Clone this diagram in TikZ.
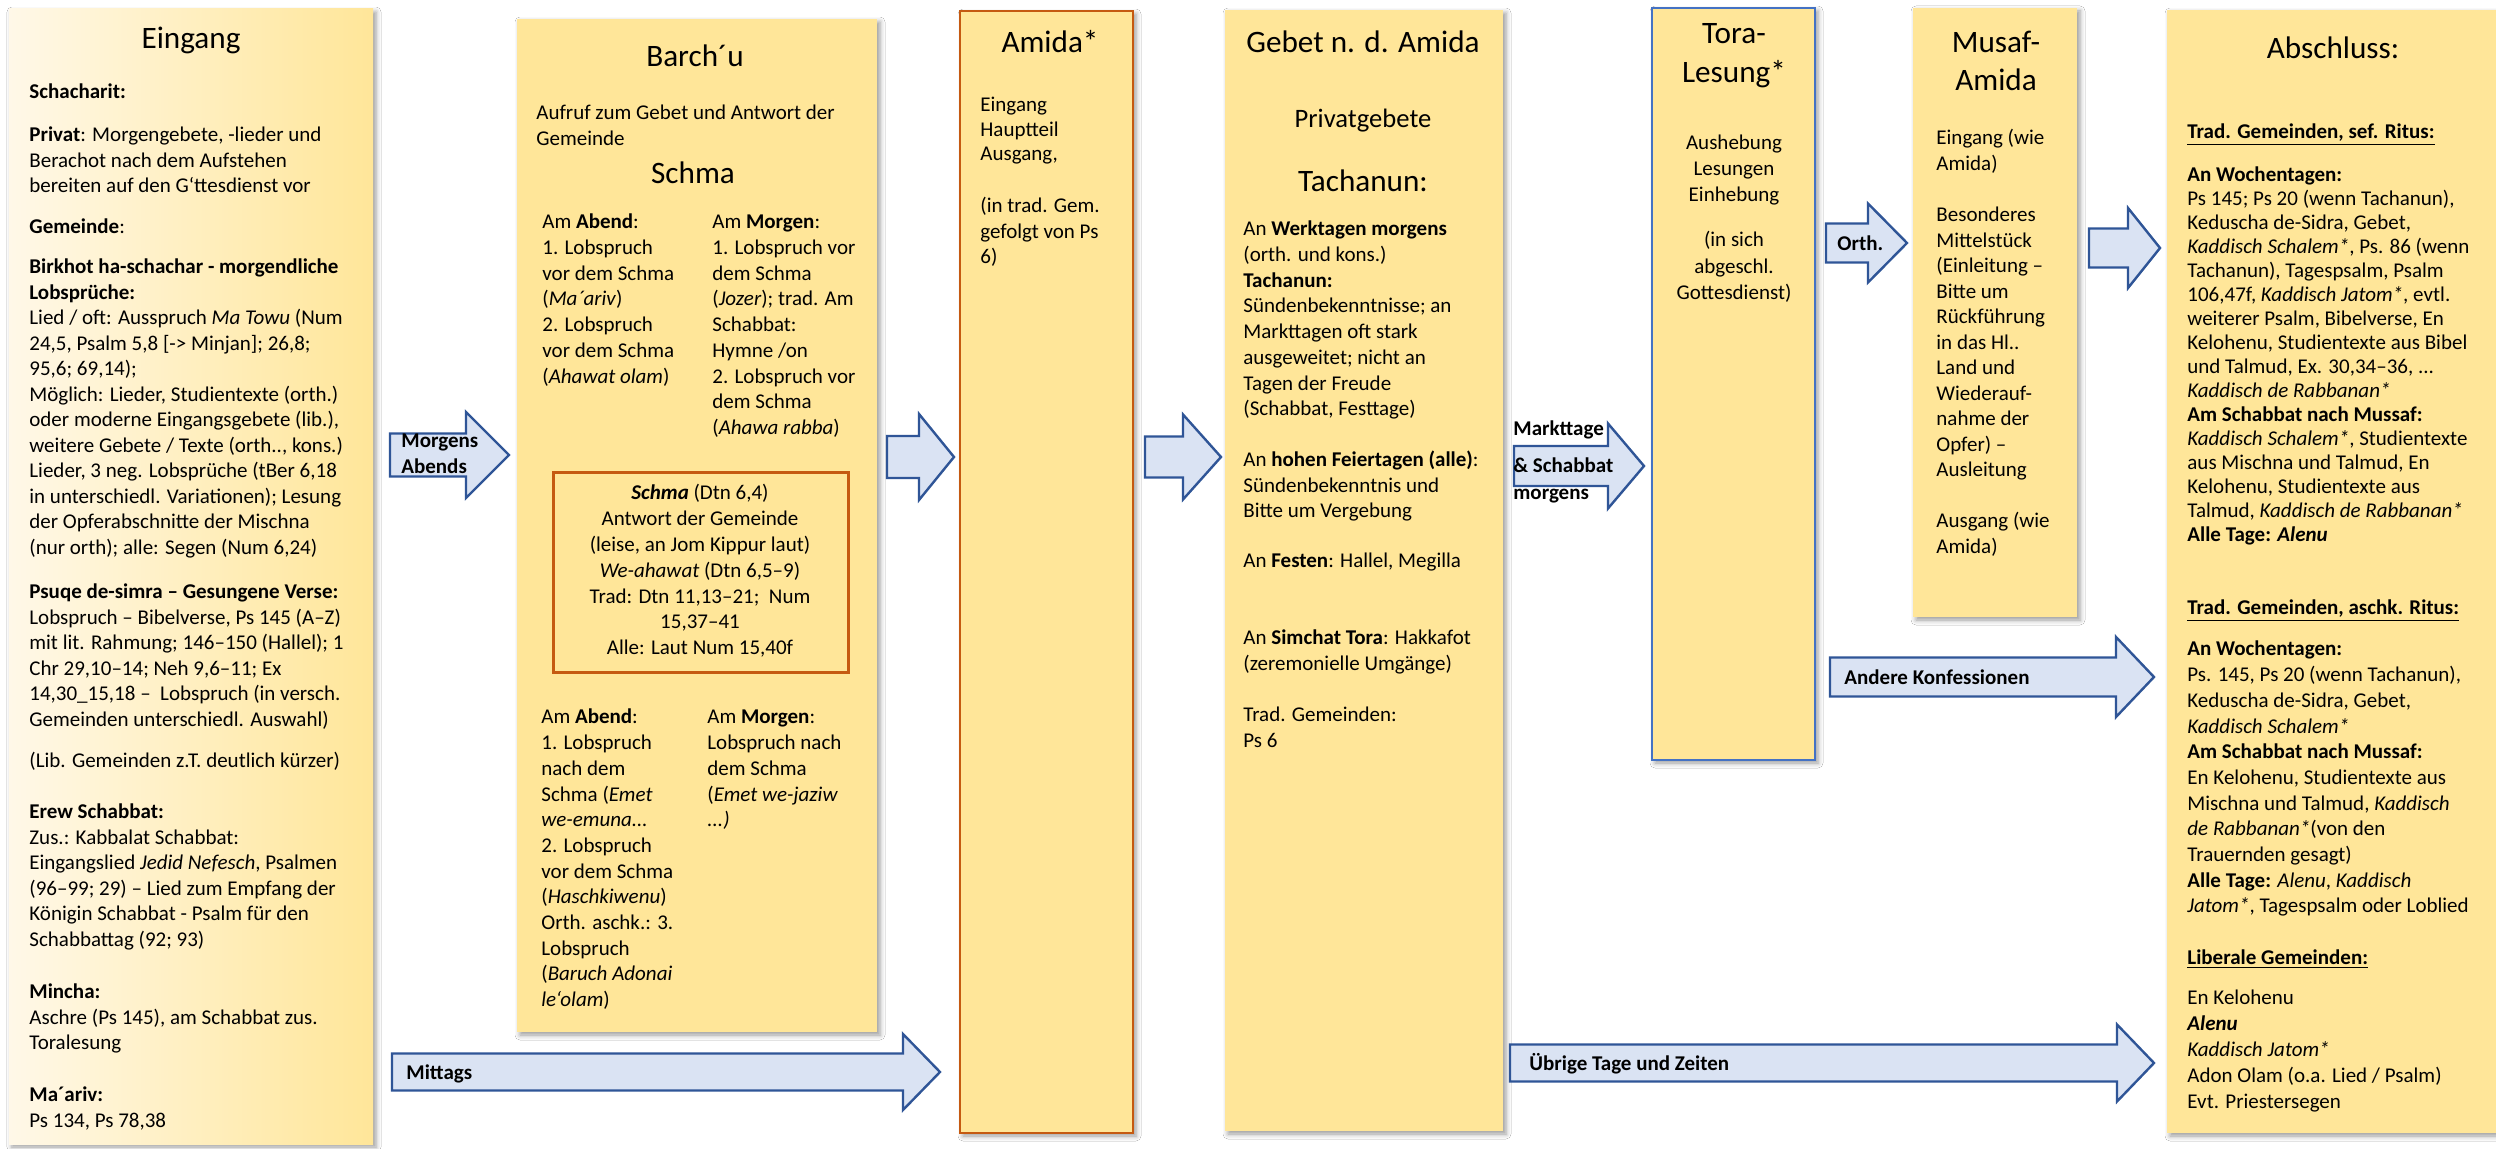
\documentclass[tikz,border=0pt]{standalone}
\usepackage{fontspec}
\setmainfont{Carlito}
\usetikzlibrary{shadows.blur}
\definecolor{boxY}{HTML}{FFE699}
\definecolor{eingL}{HTML}{FFF8E8}
\definecolor{eingR}{HTML}{FFE699}
\definecolor{arrF}{HTML}{DAE3F3}
\definecolor{arrD}{HTML}{2F5597}
\definecolor{orng}{HTML}{C55A11}
\definecolor{toraB}{HTML}{4472C4}
\newcommand{\mys}{\rule{0pt}{9pt}}
% name, x1, xbase, xtip, cy, half body, half head
\newcommand{\blockarrow}[7]{%
  \draw[arrstyle] (#2,{#5-#6}) -- (#3,{#5-#6}) -- (#3,{#5-#7}) -- (#4,#5) coordinate (#1) -- (#3,{#5+#7}) -- (#3,{#5+#6}) -- (#2,{#5+#6}) -- cycle;}
\tikzset{
  boxstyle/.style={anchor=north west, inner sep=0pt, outer sep=0pt, fill=boxY,
    blur shadow={shadow xshift=1.5pt, shadow yshift=-1.5pt, shadow blur radius=2.5pt, shadow opacity=40}},
  arrstyle/.style={fill=arrF, draw=arrD, line width=1.2pt, line join=miter},
  txt/.style={anchor=north west, align=left, inner sep=0pt, font=\fontsize{10.5}{12.75}\selectfont},
  ctxt/.style={anchor=north, align=center, inner sep=0pt, font=\fontsize{10.5}{12.75}\selectfont},
  ttl/.style={anchor=base, inner sep=0pt, font=\fontsize{15.6}{19}\selectfont},
  alab/.style={anchor=base west, inner sep=0pt, font=\fontsize{10.5}{12.75}\selectfont\bfseries},
}
\begin{document}
\begin{tikzpicture}[x=0.5pt, y=-0.5pt]
\fill[white] (0,0) rectangle (2496,1149);
\useasboundingbox (0,0) rectangle (2496,1149);

% ---------- boxes ----------
\node[boxstyle, left color=eingL, right color=eingR, minimum width=182pt, minimum height=567.5pt] (eing) at (9,9) {};
\node[boxstyle, minimum width=180pt, minimum height=506.5pt] (barchu) at (517,19) {};
\node[boxstyle, draw=orng, line width=1.3pt, minimum width=86.5pt, minimum height=561pt] (amida) at (960,11) {};
\node[boxstyle, minimum width=139pt, minimum height=560.5pt] (gebet) at (1225,10) {};
\node[boxstyle, draw=toraB, line width=1pt, minimum width=81.5pt, minimum height=376pt] (tora) at (1652,8) {};
\node[boxstyle, minimum width=82pt, minimum height=304.5pt] (musaf) at (1913,8) {};
\node[boxstyle, minimum width=166.5pt, minimum height=561.5pt] (absch) at (2167,10) {};
\node[anchor=north west, inner sep=0pt, draw=orng, line width=1.3pt, minimum width=147.5pt, minimum height=100pt] (schmabox) at (552,471) {};

% ---------- Eingang ----------
\node[ttl] (teing) at (191,49) {Eingang};
\node[txt] (e1) at (29,80.5) {\mys\textbf{Schacharit:}};
\node[txt] (e2) at (29,123.5) {\mys\textbf{Privat}: Morgengebete, -lieder und\\Berachot nach dem Aufstehen\\bereiten auf den G‘ttesdienst vor};
\node[txt] (e3) at (29,215.5) {\mys\textbf{Gemeinde}:};
\node[txt] (e4) at (29,255.5) {\mys\textbf{Birkhot ha-schachar - morgendliche}\\\textbf{Lobsprüche:}\\Lied / oft: Ausspruch \textit{Ma Towu} (Num\\24,5, Psalm 5,8 [-> Minjan]; 26,8;\\95,6; 69,14);\\Möglich: Lieder, Studientexte (orth.)\\oder moderne Eingangsgebete (lib.),\\weitere Gebete / Texte (orth.., kons.)\\Lieder, 3 neg. Lobsprüche (tBer 6,18\\in unterschiedl. Variationen); Lesung\\der Opferabschnitte der Mischna\\(nur orth); alle: Segen (Num 6,24)};
\node[txt] (e5) at (29,580.5) {\mys\textbf{Psuqe de-simra – Gesungene Verse:}\\Lobspruch – Bibelverse, Ps 145 (A–Z)\\mit lit. Rahmung; 146–150 (Hallel); 1\\Chr 29,10–14; Neh 9,6–11; Ex\\14,30\_15,18 –\ \ Lobspruch (in versch.\\Gemeinden unterschiedl. Auswahl)};
\node[txt] (e6) at (29,749.5) {\mys(Lib. Gemeinden z.T. deutlich kürzer)};
\node[txt] (e7) at (29,800.5) {\mys\textbf{Erew Schabbat:}\\Zus.: Kabbalat Schabbat:\\Eingangslied \textit{Jedid Nefesch}, Psalmen\\(96–99; 29) – Lied zum Empfang der\\Königin Schabbat - Psalm für den\\Schabbattag (92; 93)};
\node[txt] (e8) at (29,980.5) {\mys\textbf{Mincha:}\\Aschre (Ps 145), am Schabbat zus.\\Toralesung};
\node[txt] (e9) at (29,1083.5) {\mys\textbf{Ma´ariv:}\\Ps 134, Ps 78,38};

% ---------- Barch'u ----------
\node[ttl] (tbar) at (695,67) {Barch´u};
\node[txt, font=\fontsize{10.5}{13}\selectfont] (b1) at (536,101.5) {\mys Aufruf zum Gebet und Antwort der\\Gemeinde};
\node[ttl] (tschma) at (693,184) {Schma};
\node[txt, font=\fontsize{10.5}{12.85}\selectfont] (bul) at (542,210.5) {\mys Am \textbf{Abend}:\\1. Lobspruch\\vor dem Schma\\(\textit{Ma´ariv})\\2. Lobspruch\\vor dem Schma\\(\textit{Ahawat olam})};
\node[txt, font=\fontsize{10.5}{12.85}\selectfont] (bur) at (712,210.5) {\mys Am \textbf{Morgen}:\\1. Lobspruch vor\\dem Schma\\(\textit{Jozer}); trad. Am\\Schabbat:\\Hymne /on\\2. Lobspruch vor\\dem Schma\\(\textit{Ahawa rabba})};
\node[ctxt, font=\fontsize{10.5}{12.9}\selectfont] (bschma) at (700,481.5) {\mys\textbf{\textit{Schma}} (Dtn 6,4)\\Antwort der Gemeinde\\(leise, an Jom Kippur laut)\\\textit{We-ahawat} (Dtn 6,5–9)\\Trad: Dtn 11,13–21;\ \ Num\\15,37–41\\Alle: Laut Num 15,40f};
\node[txt, font=\fontsize{10.5}{12.85}\selectfont] (bll) at (541,705.5) {\mys Am \textbf{Abend}:\\1. Lobspruch\\nach dem\\Schma (\textit{Emet}\\\textit{we-emuna...}\\2. Lobspruch\\vor dem Schma\\(\textit{Haschkiwenu})\\Orth. aschk.: 3.\\Lobspruch\\(\textit{Baruch Adonai}\\\textit{le\symbol{96}olam})};
\node[txt, font=\fontsize{10.5}{12.85}\selectfont] (blr) at (707,705.5) {\mys Am \textbf{Morgen}:\\Lobspruch nach\\dem Schma\\(\textit{Emet we-jaziw}\\\textit{...)}};

% ---------- Amida ----------
\node[ttl] (tamida) at (1050,53) {Amida*};
\node[txt, font=\fontsize{10.5}{12.25}\selectfont] (a1) at (980,93.5) {\mys Eingang\\Hauptteil\\Ausgang,};
\node[txt] (a2) at (980,194.5) {\mys(in trad. Gem.\\gefolgt von Ps\\6)};

% ---------- Gebet n. d. Amida ----------
\node[ttl] (tgebet) at (1363,53) {Gebet n. d. Amida};
\node[ttl, font=\fontsize{13.3}{16}\selectfont] (tpriv) at (1363,127.5) {Privatgebete};
\node[ttl] (ttach) at (1363,192) {Tachanun:};
\node[txt, font=\fontsize{10.5}{12.85}\selectfont] (g1) at (1243,217.5) {\mys An \textbf{Werktagen morgens}\\(orth. und kons.)\\\textbf{Tachanun:}\\Sündenbekenntnisse; an\\Markttagen oft stark\\ausgeweitet; nicht an\\Tagen der Freude\\(Schabbat, Festtage)};
\node[txt] (g2) at (1243,448.5) {\mys An \textbf{hohen Feiertagen (alle)}:\\Sündenbekenntnis und\\Bitte um Vergebung};
\node[txt] (g3) at (1243,549.5) {\mys An \textbf{Festen}: Hallel, Megilla};
\node[txt] (g4) at (1243,626.5) {\mys An \textbf{Simchat Tora}: Hakkafot\\(zeremonielle Umgänge)};
\node[txt] (g5) at (1243,703.5) {\mys Trad. Gemeinden:\\Ps 6};

% ---------- Tora ----------
\node[ttl] (ttora1) at (1734,44) {Tora-};
\node[ttl] (ttora2) at (1734,83) {Lesung*};
\node[ctxt, font=\fontsize{10.5}{13}\selectfont] (t1) at (1734,131.5) {\mys Aushebung\\Lesungen\\Einhebung};
\node[ctxt, font=\fontsize{10.5}{13.25}\selectfont] (t2) at (1734,228.5) {\mys(in sich\\abgeschl.\\Gottesdienst)};

% ---------- Musaf ----------
\node[ttl] (tmus1) at (1996,53) {Musaf-};
\node[ttl] (tmus2) at (1996,91) {Amida};
\node[txt] (m1) at (1936,126.5) {\mys Eingang (wie\\Amida)};
\node[txt] (m2) at (1936,203.5) {\mys Besonderes\\Mittelstück\\(Einleitung –\\Bitte um\\Rückführung\\in das Hl..\\Land und\\Wiederauf-\\nahme der\\Opfer) –\\Ausleitung};
\node[txt] (m3) at (1936,509.5) {\mys Ausgang (wie\\Amida)};

% ---------- Abschluss ----------
\node[ttl] (tabs) at (2333,59) {Abschluss:};
\node[txt] (h1) at (2187,120.5) {\mys\underline{\textbf{Trad. Gemeinden, sef. Ritus:}}};
\node[txt, font=\fontsize{10.5}{12}\selectfont] (p1) at (2187,163.5) {\mys\textbf{An Wochentagen:}\\Ps 145; Ps 20 (wenn Tachanun),\\Keduscha de-Sidra, Gebet,\\\textit{Kaddisch Schalem*}, Ps. 86 (wenn\\Tachanun), Tagespsalm, Psalm\\106,47f, \textit{Kaddisch Jatom*}, evtl.\\weiterer Psalm, Bibelverse, En\\Kelohenu, Studientexte aus Bibel\\und Talmud, Ex. 30,34–36, ...\\\textit{Kaddisch de Rabbanan*}\\\textbf{Am Schabbat nach Mussaf:}\\\textit{Kaddisch Schalem*}, Studientexte\\aus Mischna und Talmud, En\\Kelohenu, Studientexte aus\\Talmud, \textit{Kaddisch de Rabbanan*}\\\textbf{Alle Tage: \textit{Alenu}}};
\node[txt] (h2) at (2187,596.5) {\mys\underline{\textbf{Trad. Gemeinden, aschk. Ritus:}}};
\node[txt, font=\fontsize{10.5}{12.85}\selectfont] (p2) at (2187,637.5) {\mys\textbf{An Wochentagen:}\\Ps. 145, Ps 20 (wenn Tachanun),\\Keduscha de-Sidra, Gebet,\\\textit{Kaddisch Schalem*}\\\textbf{Am Schabbat nach Mussaf:}\\En Kelohenu, Studientexte aus\\Mischna und Talmud, \textit{Kaddisch}\\\textit{de Rabbanan*}(von den\\Trauernden gesagt)\\\textbf{Alle Tage:} \textit{Alenu}, \textit{Kaddisch}\\\textit{Jatom*}, Tagespsalm oder Loblied};
\node[txt] (h3) at (2187,946.5) {\mys\underline{\textbf{Liberale Gemeinden:}}};
\node[txt, font=\fontsize{10.5}{13}\selectfont] (p3) at (2187,986.5) {\mys En Kelohenu\\\textbf{\textit{Alenu}}\\\textit{Kaddisch Jatom*}\\Adon Olam (o.a. Lied / Psalm)\\Evt. Priestersegen};

% ---------- block arrows ----------
\blockarrow{arMA}{390}{466}{509}{455}{21.5}{43}
\node[alab] (lmorg) at (401,448) {Morgens};
\node[alab] (labnd) at (401,474) {Abends};
\blockarrow{arBA}{887}{919}{954}{457}{21}{43}
\blockarrow{arAG}{1145}{1183}{1221}{457}{20.5}{42.5}
\blockarrow{arGT}{1514}{1608}{1644}{466}{20}{42.5}
\node[alab] (lmt1) at (1513,436) {Markttage};
\node[alab] (lmt2) at (1513,473) {\& Schabbat};
\node[alab] (lmt3) at (1513,500) {morgens};
\blockarrow{arTM}{1826}{1868}{1907}{243}{19.5}{39.5}
\node[alab] (lorth) at (1837,251) {Orth.};
\blockarrow{arMAb}{2089}{2128}{2160}{248}{19.5}{40}
\blockarrow{arAK}{1830}{2116}{2154}{677}{19.5}{40}
\node[alab] (land) at (1844,684) {Andere Konfessionen};
\blockarrow{arMi}{392}{903}{940}{1072}{18.5}{38}
\node[alab] (lmit) at (406,1079) {Mittags};
\blockarrow{arUe}{1510}{2117}{2154}{1063}{18.5}{38.5}
\node[alab] (lueb) at (1529,1070) {Übrige Tage und Zeiten};
\end{tikzpicture}
\end{document}
